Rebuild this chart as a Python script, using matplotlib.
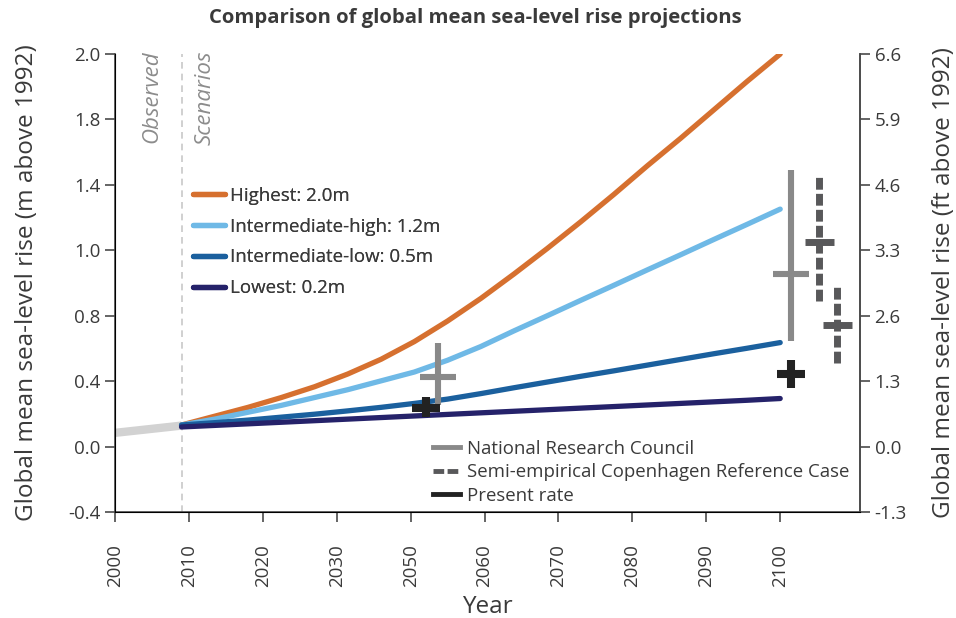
import matplotlib
matplotlib.use("Agg")
import matplotlib.pyplot as plt
from matplotlib.lines import Line2D
import numpy as np

plt.rcParams['font.family'] = ['Open Sans', 'DejaVu Sans']

# observed record and scenario curves (m above 1992)
obs_years = [2000, 2010]
obs_vals = [0.07, 0.107]

years = [2010, 2015, 2020, 2025, 2030, 2035, 2040, 2045, 2050, 2055,
         2060, 2065, 2070, 2075, 2080, 2085, 2090, 2095, 2100]
highest = [0.11, 0.155, 0.20, 0.25, 0.305, 0.37, 0.445, 0.535, 0.64, 0.755,
           0.88, 1.01, 1.145, 1.285, 1.43, 1.57, 1.715, 1.86, 2.00]
inter_high = [0.11, 0.14, 0.175, 0.21, 0.25, 0.29, 0.335, 0.38, 0.44, 0.51,
              0.59, 0.667, 0.745, 0.822, 0.90, 0.977, 1.055, 1.132, 1.21]
inter_low = [0.11, 0.122, 0.135, 0.15, 0.165, 0.182, 0.20, 0.22, 0.242, 0.27,
             0.30, 0.329, 0.358, 0.386, 0.415, 0.444, 0.473, 0.501, 0.53]
lowest = [0.10, 0.108, 0.116, 0.124, 0.132, 0.140, 0.148, 0.156, 0.164, 0.172,
          0.180, 0.188, 0.196, 0.204, 0.212, 0.220, 0.228, 0.236, 0.245]

scen_labels = ["Highest: 2.0m", "Intermediate-high: 1.2m",
               "Intermediate-low: 0.5m", "Lowest: 0.2m"]

# ranges: (year, central, low, high)
nrc = [(2048.5, 0.355, 0.21, 0.53), (2101.6, 0.88, 0.54, 1.41)]
copenhagen = [(2105.9, 1.04, 0.74, 1.385), (2108.6, 0.62, 0.425, 0.82)]
present = [(2046.7, 0.196, 0.153, 0.255), (2101.6, 0.37, 0.30, 0.44)]

# tick labels as printed on the original
x_labels = ["2000", "2010", "2020", "2030", "2050", "2060", "2070", "2080", "2090", "2100"]
y_labels = ["-0.4", "0.0", "0.4", "0.8", "1.0", "1.4", "1.8", "2.0"]
ft_labels = ["-1.3", "0.0", "1.3", "2.6", "3.3", "4.6", "5.9", "6.6"]

txt = '#3a3a3a'
fig = plt.figure(figsize=(9.56, 6.18), dpi=100)
ax = fig.add_axes([0.1203, 0.1715, 0.7793, 0.741])

ax.axvline(2010, color='#c8c8c8', lw=1.2, ls=(0, (4, 3)), zorder=1)
ax.plot(obs_years, obs_vals, color='#d2d2d2', lw=6, solid_capstyle='butt', zorder=2)

colors = ['#d6702f', '#6fb9e6', '#1b609e', '#25226a']
for vals, c, lab in zip([highest, inter_high, inter_low, lowest], colors, scen_labels):
    ax.plot(years, vals, color=c, lw=3.8, solid_capstyle='round', label=lab, zorder=3)

def cross(x, c, lo, hi, color, lw, halfw, dashed=False):
    ls = (0, (1.7, 0.6)) if dashed else '-'
    ax.plot([x, x], [lo, hi], color=color, lw=lw, ls=ls, solid_capstyle='butt', zorder=4)
    ax.plot([x - halfw, x + halfw], [c, c], color=color, lw=lw, solid_capstyle='butt', zorder=4)

for x, c, lo, hi in nrc:
    cross(x, c, lo, hi, '#898989', 4.4, 2.7)
for x, c, lo, hi in copenhagen:
    cross(x, c, lo, hi, '#58585a', 5.0, 2.2, dashed=True)
for x, c, lo, hi in present:
    cross(x, c, lo, hi, '#222222', 5.8, 2.1)

ax.set_xlim(2000, 2112)
ax.set_ylim(-1 / 3, 2.0)
ax.set_xticks(np.linspace(2000, 2100, len(x_labels)))
ax.set_xticklabels(x_labels, rotation=90, fontsize=13.5, color=txt)
ax.set_yticks(np.linspace(-1 / 3, 2.0, len(y_labels)))
ax.set_yticklabels(y_labels, fontsize=13.5, color=txt)
ax.spines['top'].set_visible(False)
for s in ['left', 'bottom', 'right']:
    ax.spines[s].set_color('#4a4a4a')
    ax.spines[s].set_linewidth(1.2)
ax.tick_params(direction='out', length=7, width=1.2, color='#4a4a4a')
ax.tick_params(axis='x', pad=16)

ax2 = ax.twinx()
ax2.set_ylim(ax.get_ylim())
ax2.set_yticks(np.linspace(-1 / 3, 2.0, len(ft_labels)))
ax2.set_yticklabels(ft_labels, fontsize=13.5, color=txt)
ax2.spines['top'].set_visible(False)
ax2.spines['right'].set_color('#4a4a4a')
ax2.spines['right'].set_linewidth(1.2)
ax2.tick_params(direction='out', length=7, width=1.2, color='#4a4a4a')

ax.set_xlabel("Year", fontsize=17.5, color=txt, labelpad=6)
ax.set_ylabel("Global mean sea-level rise (m above 1992)", fontsize=17.5, color=txt, labelpad=21)
ax2.set_ylabel("Global mean sea-level rise (ft above 1992)", fontsize=17.5, color=txt, labelpad=18)
fig.text(0.497, 0.971, "Comparison of global mean sea-level rise projections",
         fontsize=14.6, fontweight='bold', color=txt, ha='center', va='center')

ax.text(2005.5, 2.02, "Observed", rotation=90, style='italic', fontsize=16,
        color='#8c8c8c', ha='center', va='top')
ax.text(2013.5, 2.02, "Scenarios", rotation=90, style='italic', fontsize=16,
        color='#8c8c8c', ha='center', va='top')

leg1 = ax.legend(loc='upper left', bbox_to_anchor=(0.105, 0.71), frameon=False,
                 fontsize=13.5, handlelength=1.7, handletextpad=0.25, labelspacing=0.68,
                 borderpad=0, borderaxespad=0)
for t in leg1.get_texts():
    t.set_color(txt)
ax.add_artist(leg1)

handles = [Line2D([], [], color='#898989', lw=3.5),
           Line2D([], [], color='#58585a', lw=3.5, ls=(0, (2.2, 0.7))),
           Line2D([], [], color='#222222', lw=3.5)]
leg2 = ax2.legend(handles, ["National Research Council",
                            "Semi-empirical Copenhagen Reference Case", "Present rate"],
                  loc='upper left', bbox_to_anchor=(0.427, 0.158), frameon=False,
                  fontsize=13.4, handlelength=1.45, handletextpad=0.35, labelspacing=0.3,
                  borderpad=0, borderaxespad=0)
for t in leg2.get_texts():
    t.set_color(txt)

fig.savefig("out.png", dpi=100)
